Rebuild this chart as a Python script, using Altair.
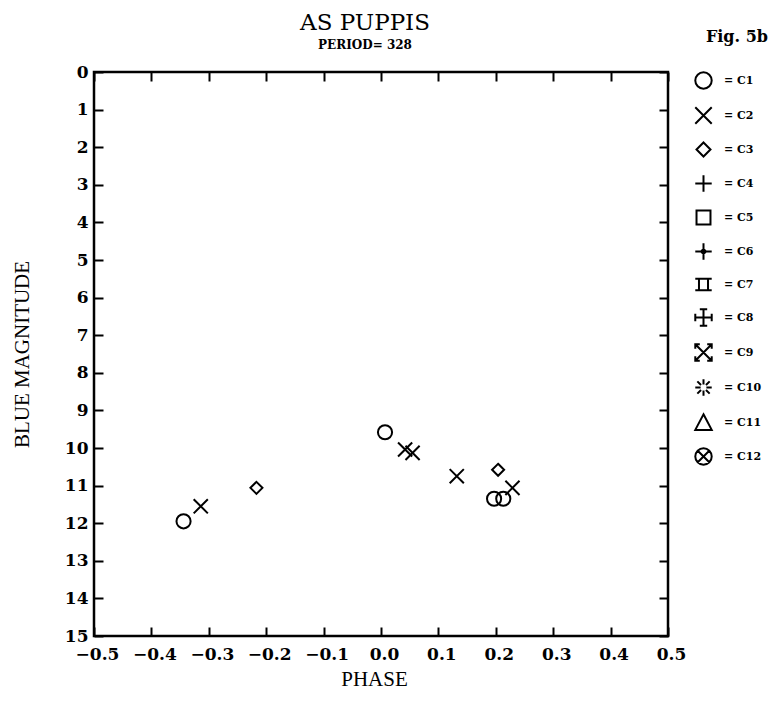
import altair as alt
import pandas as pd

# ---- data ----
c1_phase = [-0.344, 0.007, 0.197, 0.213]
c1_mag = [11.95, 9.58, 11.35, 11.35]
c2_phase = [-0.314, 0.042, 0.055, 0.132, 0.229]
c2_mag = [11.55, 10.04, 10.13, 10.75, 11.06]
c3_phase = [-0.217, 0.204]
c3_mag = [11.06, 10.58]

series = ["C1", "C2", "C3", "C4", "C5", "C6", "C7", "C8", "C9", "C10", "C11", "C12"]
x_ticks = [-0.5, -0.4, -0.3, -0.2, -0.1, 0.0, 0.1, 0.2, 0.3, 0.4, 0.5]
y_ticks = list(range(0, 16))

rows = []
for name, ph, mg in [("C1", c1_phase, c1_mag), ("C2", c2_phase, c2_mag), ("C3", c3_phase, c3_mag)]:
    for p, m in zip(ph, mg):
        rows.append({"phase": p, "mag": m, "series": name})
df = pd.DataFrame(rows)

shapes = [
    "circle",
    "M-1,-1L1,1M1,-1L-1,1",
    "M0,-0.85L0.85,0L0,0.85L-0.85,0Z",
    "M-1,0L1,0M0,-1L0,1",
    "M-0.85,-0.85L0.85,-0.85L0.85,0.85L-0.85,0.85Z",
    "M-1,0L1,0M0,-1L0,1M-0.3,0L0,-0.3L0.3,0L0,0.3Z",
    "M-1,-0.7L1,-0.7M-1,0.7L1,0.7M-0.55,-0.7L-0.55,0.7M0.55,-0.7L0.55,0.7",
    "M-1,0L1,0M0,-1L0,1M-1,-0.45L-1,0.45M1,-0.45L1,0.45M-0.45,-1L0.45,-1M-0.45,1L0.45,1",
    "M-1,-1L1,1M1,-1L-1,1M-1,-0.45L-1,-1L-0.45,-1M1,-0.45L1,-1L0.45,-1M-1,0.45L-1,1L-0.45,1M1,0.45L1,1L0.45,1",
    "M-1,0L-0.35,0M0.35,0L1,0M0,-1L0,-0.35M0,0.35L0,1M-0.75,-0.75L-0.3,-0.3M0.3,0.3L0.75,0.75M0.75,-0.75L0.3,-0.3M-0.3,0.3L-0.75,0.75",
    "M0,-1L1,0.9L-1,0.9Z",
    "M1,0A1,1,0,1,1,-1,0A1,1,0,1,1,1,0ZM-0.7,-0.7L0.7,0.7M0.7,-0.7L-0.7,0.7",
]

TICK_FONT = "DejaVu Serif"
TITLE_FONT = "Liberation Serif"

xscale = alt.Scale(domain=[-0.5, 0.5], nice=False, zero=False)
yscale = alt.Scale(domain=[0, 15], reverse=True, nice=False, zero=False)

points = alt.Chart(df).mark_point(filled=False, stroke="black", strokeWidth=2, size=200, opacity=1).encode(
    x=alt.X("phase:Q", scale=xscale,
            axis=alt.Axis(orient="bottom", values=x_ticks, format=".1f", title="PHASE",
                          offset=-9, tickSize=9, tickWidth=2, tickColor="black", domain=False, grid=False,
                          labelFont=TICK_FONT, labelFontWeight="bold", labelFontSize=17, labelColor="black",
                          labelPadding=10, labelOffset=3, labelBaseline="top", labelOverlap=False, labelFlush=False,
                          titleFont=TITLE_FONT, titleFontSize=21, titleFontWeight="normal", titleColor="black",
                          titleX=280, titleY=58, titleBaseline="alphabetic", titleAlign="center")),
    y=alt.Y("mag:Q", scale=yscale,
            axis=alt.Axis(orient="left", values=y_ticks, format="d", title="BLUE MAGNITUDE",
                          offset=-9, tickSize=9, tickWidth=2, tickColor="black", domain=False, grid=False,
                          labelFont=TICK_FONT, labelFontWeight="bold", labelFontSize=17, labelColor="black",
                          labelPadding=6, labelBaseline="middle", labelOverlap=False, labelFlush=False,
                          titleFont=TITLE_FONT, titleFontSize=21, titleFontWeight="normal", titleColor="black",
                          titleX=-81, titleY=282, titleBaseline="middle", titleAngle=270, titleAlign="center")),
    shape=alt.Shape("series:N", scale=alt.Scale(domain=series, range=shapes),
                    legend=alt.Legend(title=None, orient="none", legendX=600, legendY=-1,
                                      symbolSize=270, symbolStrokeWidth=2, symbolStrokeColor="black",
                                      symbolFillColor="transparent", symbolType="circle",
                                      labelFont=TICK_FONT, labelFontWeight="bold", labelFontSize=11,
                                      labelColor="black", labelOffset=11, rowPadding=10, padding=0,
                                      labelExpr="'= ' + datum.label")),
)

frame_axes = alt.Chart(df).mark_point(opacity=0).encode(
    x=alt.X("phase:Q", scale=xscale,
            axis=alt.Axis(orient="top", values=x_ticks, labels=False, title=None, offset=-9, tickSize=9,
                          tickWidth=2, tickColor="black", domain=False, grid=False)),
    y=alt.Y("mag:Q", scale=yscale,
            axis=alt.Axis(orient="right", values=y_ticks, labels=False, title=None, offset=-9, tickSize=9,
                          tickWidth=2, tickColor="black", domain=False, grid=False)),
)

fig_label = alt.Chart(pd.DataFrame({"t": ["Fig. 5b"]})).mark_text(
    font=TICK_FONT, fontSize=16, fontWeight="bold", color="black", align="right", baseline="alphabetic"
).encode(x=alt.value(674), y=alt.value(-30), text="t:N")

chart = alt.layer(points, frame_axes, fig_label).resolve_axis(x="independent", y="independent").properties(
    width=574, height=564,
    autosize=alt.AutoSizeParams(type="none"),
    padding={"left": 86, "top": 64, "right": 101, "bottom": 58},
    title=alt.TitleParams(text="AS PUPPIS", subtitle="PERIOD= 328", anchor="middle", frame="group",
                          dx=-16, offset=-22, font=TICK_FONT, fontSize=23, fontWeight="normal", color="black",
                          subtitleFont=TICK_FONT, subtitleFontSize=12, subtitleFontWeight="bold",
                          subtitleColor="black", subtitlePadding=5),
).configure_view(stroke="black", strokeWidth=2.5)

chart.save("out.html", embed_options={"renderer": "svg", "actions": False})
